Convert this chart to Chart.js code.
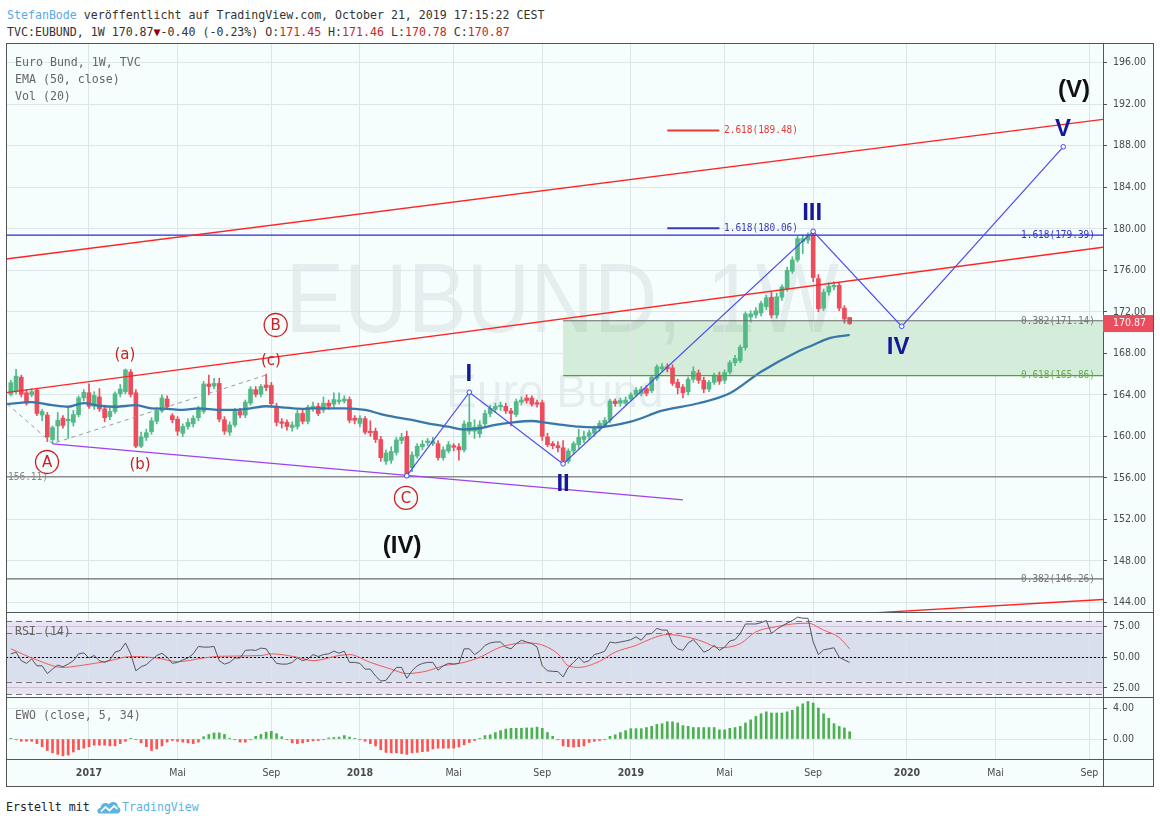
<!DOCTYPE html>
<html><head><meta charset="utf-8">
<script src="https://cdn.jsdelivr.net/npm/chart.js@4.4.1/dist/chart.umd.min.js"></script>
<style>
body{margin:0;background:#fff;width:1160px;height:823px;overflow:hidden;position:relative;font-family:"DejaVu Sans Mono",monospace;}
.t{position:absolute;left:7px;font-size:11.6px;line-height:14px;white-space:pre;color:#333;}
.r{color:#c62828}
canvas{position:absolute;}
</style></head><body>
<div class="t" style="top:8px"><span style="color:#5aa9e6">StefanBode</span> veröffentlicht auf TradingView.com, October 21, 2019 17:15:22 CEST</div>
<div class="t" style="top:25px">TVC:EUBUND, 1W 170.87<span style="color:#8b0000">▼</span>-0.40 (-0.23%) O:<span class="r">171.45</span> H:<span class="r">171.46</span> L:<span class="r">170.78</span> C:<span class="r">170.87</span></div>
<canvas id="cP" width="1148" height="570" style="left:6px;top:43px"></canvas>
<canvas id="cR" width="1148" height="86" style="left:6px;top:612px"></canvas>
<canvas id="cE" width="1148" height="90" style="left:6px;top:697px"></canvas>
<div class="t" style="top:800px;left:6px;color:#222">Erstellt mit</div>
<svg style="position:absolute;left:97px;top:800px" width="24" height="14" viewBox="0 0 24 14"><path d="M2.5 13.5 C-0.5 13.5 -0.5 8 3.5 8 C3.5 3 9.5 1.5 12 4.5 C14 0.5 21 1.5 21 7 C24.5 7.5 24 13.5 20.5 13.5 Z" fill="#5ab4e0"/><path d="M4 11.5 L8.5 7 L12.5 10.5 L17 6 L20.5 9" stroke="#fff" stroke-width="1.7" fill="none"/></svg>
<div class="t" style="top:800px;left:122px;color:#5ab4e0">TradingView</div>
<script>
// ---------------- DATA ----------------
const O=[164.05,164.3,165.7,164.2,164.0,164.45,162.05,162.05,159.7,161.0,
161.75,161.5,161.35,162.1,163.7,164.2,162.9,163.8,162.65,161.9,
162.4,164.1,164.3,166.2,164.2,159.05,159.9,160.45,161.45,162.45,
163.6,162.0,161.65,160.3,160.95,161.2,161.8,162.4,165.05,164.85,
165.1,161.6,160.4,161.1,162.4,162.05,163.2,164.5,164.05,164.95,
164.9,162.9,161.4,161.35,160.85,160.95,162.2,161.45,162.7,162.9,
162.55,163.2,163.1,163.35,163.4,163.55,161.75,161.25,161.7,160.5,
160.5,159.7,157.6,157.7,158.45,159.6,160.0,157.0,158.1,159.0,
159.4,159.3,159.3,157.95,158.6,159.1,159.0,158.7,160.5,160.5,
160.25,161.2,162.2,162.6,162.85,162.9,162.45,162.1,163.3,163.7,
163.7,163.25,163.25,159.95,159.3,159.1,158.9,157.6,158.6,159.2,
159.7,160.0,160.3,160.8,161.1,161.55,163.4,163.2,163.2,163.6,
164.0,164.1,164.6,164.4,165.6,166.5,166.7,166.6,165.2,164.75,
164.3,165.5,166.1,165.4,164.55,165.2,165.9,165.4,166.2,167.1,
167.3,168.55,171.5,171.7,171.9,172.5,173.4,171.7,173.4,174.2,
175.9,177.0,178.75,178.9,179.4,175.2,172.35,173.9,174.4,174.55,
172.35,171.45];
const H=[165.4,166.45,165.9,164.5,164.6,164.6,162.6,162.3,161.0,162.3,
162.0,162.8,162.5,163.9,164.5,165.05,164.3,164.6,163.0,162.7,
164.3,165.0,166.5,166.45,164.5,160.4,160.7,161.8,162.8,164.0,
163.9,162.2,161.9,161.2,161.7,162.0,162.9,165.3,165.9,165.6,
165.6,161.9,161.4,162.7,162.7,163.5,164.8,164.8,165.0,166.0,
165.2,163.2,161.7,161.6,161.4,162.5,162.6,163.0,163.3,163.2,
163.8,163.5,164.2,164.2,163.9,163.8,162.0,162.0,161.9,161.5,
160.8,160.0,158.7,159.0,159.9,160.3,160.5,158.5,159.3,159.6,
159.8,159.9,159.6,159.0,159.5,159.3,159.3,161.5,164.2,161.6,
161.5,162.5,163.0,163.2,163.3,163.2,162.7,163.6,163.8,164.0,
163.9,163.5,163.5,160.3,159.5,159.5,159.6,158.8,159.5,160.7,
160.5,160.6,161.0,161.5,161.8,163.6,163.6,163.7,163.8,164.2,
164.7,164.8,164.9,165.9,166.9,167.0,167.0,166.9,165.5,165.0,
165.7,166.7,166.4,165.7,165.4,166.1,166.2,166.4,167.3,167.8,
168.8,172.0,172.1,172.4,173.0,173.6,173.9,173.8,174.6,176.3,
177.3,179.3,179.4,179.6,179.8,175.6,174.2,174.8,174.9,174.8,
172.6,171.46];
const L=[163.9,164.1,163.8,163.0,163.8,162.0,161.5,159.5,159.3,159.55,
160.8,159.8,161.0,161.9,163.4,162.7,162.6,162.4,161.4,161.6,
162.2,163.8,164.1,163.8,158.9,158.9,159.6,160.2,161.2,162.3,
162.6,161.3,160.1,160.0,160.7,160.9,161.5,162.2,164.0,164.6,
161.4,160.2,160.1,160.9,161.8,161.8,163.0,163.8,163.8,164.4,
162.9,161.0,160.8,160.6,160.5,160.7,161.2,161.2,162.4,162.0,
162.3,162.6,162.8,163.1,163.2,161.3,161.2,160.9,160.2,160.0,
159.4,157.6,157.3,157.4,158.2,159.3,156.1,156.6,157.9,158.7,
159.1,159.1,157.7,157.7,158.4,158.6,157.7,158.5,160.2,159.8,
159.9,160.9,161.9,162.3,162.5,162.2,161.0,161.9,163.0,163.2,
162.9,162.8,159.6,159.0,158.8,158.5,157.3,157.4,158.3,158.8,
159.4,159.7,160.0,160.5,160.9,161.3,162.9,162.9,163.0,163.4,
163.8,163.9,163.9,164.2,165.4,166.2,166.2,164.9,164.1,163.7,
164.0,165.2,165.1,164.2,164.3,165.0,165.0,165.1,166.0,166.8,
167.1,168.3,171.0,171.4,171.6,172.2,171.4,171.4,173.1,174.0,
175.7,176.8,177.6,178.6,174.9,172.0,172.1,173.6,174.1,172.1,
170.9,170.78];
const C=[165.17,165.8,164.05,163.2,164.3,162.2,162.4,159.95,160.85,161.55,
161.05,161.65,162.1,163.7,164.25,162.9,163.95,162.65,161.8,162.4,
164.1,164.55,166.4,164.05,159.05,159.95,160.35,161.5,162.5,163.7,
162.85,161.6,160.5,160.95,161.35,161.75,162.65,165.05,164.8,165.1,
161.65,160.5,161.1,162.4,162.05,163.3,164.55,164.05,164.8,164.7,
163.15,161.35,161.25,160.95,161.1,162.2,161.45,162.8,162.9,162.2,
163.2,162.9,163.55,163.5,163.6,161.55,161.55,161.75,160.4,160.35,
159.7,157.95,158.4,158.55,159.65,159.9,156.15,158.2,159.05,159.25,
159.55,159.55,157.95,158.7,159.2,158.95,158.7,161.2,161.35,160.9,
161.1,162.2,162.7,162.9,163.0,162.45,162.2,163.35,163.5,163.45,
163.1,163.1,160.0,159.2,159.1,158.9,157.6,158.6,159.3,159.9,
160.0,160.35,160.75,161.25,161.55,163.4,163.15,163.45,163.5,164.0,
164.45,164.55,164.15,165.7,166.7,166.7,166.5,165.1,164.7,164.2,
165.5,166.25,165.4,164.55,165.2,165.9,165.3,166.15,167.1,167.5,
168.6,171.8,171.8,172.1,172.8,173.35,171.7,173.45,174.4,176.0,
177.0,179.05,179.05,179.4,175.3,172.3,173.9,174.45,174.55,172.35,
171.3,170.87];
// EMA(50) read at selected weeks
const emaIdx=[-1,4,8,11,14,17,20,24,27,30,33,36,40,43,46,49,52,56,58,64,68,71,74,77,80,84,87,90,93,96,100,103,106,109,112,119,125,132,138,144,151,154,157,161];
const emaVal=[163.1,163.3,163.0,162.85,163.2,162.95,162.85,163.0,162.7,162.65,162.55,162.7,162.55,162.55,162.7,162.9,162.8,162.65,162.7,162.7,162.55,162.15,161.84,161.58,161.26,160.93,160.68,160.78,161.1,161.32,161.48,161.3,161.1,160.93,160.87,161.42,162.47,163.19,164.15,166.23,168.16,168.8,169.45,169.77];
const rsi=[52.8,54.2,47.2,45,48.6,43,43,36.7,40.3,43.6,
42.2,44.4,47.2,52.8,53.6,49.4,51.4,47.2,45.8,47.8,
54.2,55.6,61.7,52.8,38.9,42.2,43.9,47.8,51.4,53.3,
50,45,45.8,47.8,49.4,52.8,58.9,58.3,58.3,58.9,
47.2,44.4,45.8,49.4,49.4,55.6,56,55.6,57.5,56.9,
50.6,45,44.4,44.4,45.8,49.4,47.2,48.6,52.2,50.6,
52.2,52.8,55,53.3,55,45.8,45.8,45,40.3,40.3,
34.7,30.6,31.1,36.7,41.7,41.7,32.8,38.9,43,45,
45.8,45.8,39.4,43,45,44.4,45,56.9,56.9,52.2,
55,59.7,61.7,62.5,62.5,58.3,56.9,61.1,63.9,62.5,
61.1,58.5,43,39,38.5,38.3,33.9,41.7,45.8,50,
45.8,47.2,52.2,53.3,55,62.5,61.7,62.5,63.3,64.4,
66.7,63.9,68.9,69.4,73.6,72.2,72.2,61.1,56.9,55.6,
61.7,64.4,59.7,54.2,56,59.7,55.6,58.3,63.3,64.4,
69.4,77.2,77.2,77.2,78.3,80,69.4,72.8,75.6,77.8,
80,82.8,81.9,81.9,62.5,52.2,56,56.9,57.8,50,
47.8,45.8];
const rsiMaIdx=[0,5,10,13,19,23,28,32,37,40,48,50,55,58,63,65,69,73,76,80,83,87,90,94,99,101,105,107,109,113,116,120,123,126,131,133,136,140,143,147,150,153,156,159,161];
const rsiMaVal=[56.9,47.8,41.7,43,47.2,50.6,49.4,46.4,49.4,50.8,51.4,52.8,50,47.2,51.4,52.2,45.8,40.3,36.7,38.9,43,45.8,50,58.3,61.7,61.1,52.8,43,41.7,46.7,54.2,59.7,65.3,68.6,65.3,62.5,57.8,61.1,70.8,75,77.2,77.8,72.2,66.1,56.9];
const ewo=[0.1,-0.1,-0.3,-0.3,-0.3,-0.6,-1.0,-1.5,-1.8,-2.0,
-2.2,-2.1,-1.7,-1.4,-1.2,-1.0,-0.8,-0.8,-0.8,-0.9,
-0.9,-0.6,-0.3,0.1,-0.1,-0.5,-1.0,-1.5,-1.3,-0.9,
-0.4,-0.2,-0.3,-0.4,-0.5,-0.6,-0.4,0.3,0.6,0.8,
0.8,0.6,0.1,-0.1,-0.4,-0.4,-0.1,0.35,0.6,0.9,
1.0,0.7,0.3,-0.1,-0.5,-0.6,-0.5,-0.35,-0.25,-0.2,
-0.1,0.15,0.2,0.25,0.45,0.25,0.1,-0.1,-0.3,-0.6,
-0.9,-1.4,-1.75,-1.8,-1.8,-1.9,-2.0,-1.8,-1.75,-1.65,
-1.6,-1.3,-1.2,-1.2,-1.2,-1.2,-1.05,-0.75,-0.45,-0.2,
0.1,0.45,0.55,0.85,1.1,1.3,1.4,1.4,1.4,1.45,
1.45,1.55,1.4,0.85,0.35,-0.1,-0.9,-1.0,-1.05,-1.0,
-0.9,-0.45,-0.3,-0.2,-0.05,0.35,0.55,0.85,1.1,1.35,
1.35,1.35,1.5,1.65,1.9,2.0,2.25,2.25,2.1,1.75,
1.65,1.5,1.5,1.5,1.5,1.5,1.2,1.2,1.4,1.5,
1.65,2.1,2.5,2.95,3.3,3.55,3.4,3.4,3.4,3.55,
3.75,4.2,4.6,4.9,4.7,4.05,3.3,2.7,2.0,1.65,
1.45,0.95];
const priceTicks=[144,148,152,156,160,164,168,172,176,180,184,188,192,196];
const rsiTicks=[25,50,75];
const ewoTicks=[0,4];
const timeTickIdx=[15,32,50,67,85,102,119,137,154,172,189,207];
const timeTickLabels=['2017','Mai','Sep','2018','Mai','Sep','2019','Mai','Sep','2020','Mai','Sep'];
// Elliott wave path C-I-II-III-IV-V
const waveIdx=[76,88,106,154,171,202];
const wavePrice=[156.2,164.25,157.35,179.75,170.6,187.9];
// trend lines (week index, price)
const chanUpper=[[-0.931,177.09],[209.63,190.55]];
const chanMid=[[-0.931,164.21],[209.63,178.22]];
const chanLow=[[140,142.24],[209.63,144.28]];
const purpleLine=[[8,159.27],[129,153.88]];
const dashedPath=[[-0.68,163.12],[8,159.3],[49,165.91]];
// fibonacci levels
const fibFull=[179.39,156.11,146.26];
const fibFromII=[171.14,165.86];
const fibShort=[180.06,189.48];
const lastClose=C[C.length-1];

// ---------------- STYLE / LAYOUT ----------------
const BG='#f6fdfd', GRID='#dde5e8', FRAME='#555';
const AXF='"DejaVu Sans Condensed","DejaVu Sans",sans-serif';
const MONO='"DejaVu Sans Mono",monospace';
const XMIN=-0.931, XMAX=209.63, YAXW=51;
const UP='#53b987', DN='#eb4d5c';
Chart.defaults.devicePixelRatio=1;

function xAxis(labels){
  return {type:'linear',min:XMIN,max:XMAX,offset:false,
    afterBuildTicks(s){s.ticks=timeTickIdx.map(v=>({value:v}));},
    grid:{color:GRID,drawTicks:false,offset:false},
    border:{display:false},
    ticks:{display:labels,autoSkip:false,maxRotation:0,minRotation:0,padding:8,color:'#4a4a4a',
      callback:(v,i)=>timeTickLabels[i],
      font:(c)=>({family:AXF,size:10.5,weight:(/^\d/.test(timeTickLabels[c.index]||''))?'bold':'normal'})},
    afterFit(s){s.height=labels?28:0;s.paddingLeft=0;s.paddingRight=0;s.paddingTop=0;s.paddingBottom=0;}};
}
function yAxis(min,max,ticks,gridColor){
  return {position:'right',min,max,
    afterBuildTicks(s){s.ticks=ticks.map(v=>({value:v}));},
    grid:{color:gridColor||GRID,drawTicks:true,tickLength:4,tickColor:FRAME},
    border:{display:true,color:FRAME},
    ticks:{color:'#4a4a4a',padding:6,font:{family:AXF,size:10.5},callback:v=>Number(v).toFixed(2)},
    afterFit(s){s.width=YAXW;s.paddingTop=0;s.paddingBottom=0;s.paddingLeft=0;s.paddingRight=0;}};
}
const baseOpts=(scales)=>({responsive:false,maintainAspectRatio:false,animation:false,events:[],
  layout:{padding:0,autoPadding:false},plugins:{legend:{display:false},tooltip:{enabled:false}},scales});
const pts=(arr)=>arr.map(p=>({x:p[0],y:p[1]}));
const lineDs=(data,color,width,extra)=>Object.assign({type:'line',data,borderColor:color,borderWidth:width,pointRadius:0,fill:false,tension:0},extra||{});

function frame(chart){
  const {ctx}=chart; ctx.save(); ctx.strokeStyle=FRAME; ctx.lineWidth=1;
  ctx.strokeRect(0.5,0.5,chart.width-1,chart.height-1); ctx.restore();
}

// ---------------- PRICE PANEL ----------------
const waveLabels=[
 {t:'A',x:6.94,y:157.53,k:'circle'},{t:'B',x:50.83,y:170.73,k:'circle'},{t:'C',x:75.84,y:154.07,k:'circle'},
 {t:'(a)',x:21.9,y:167.84,k:'red'},{t:'(b)',x:24.8,y:157.24,k:'red'},{t:'(c)',x:49.93,y:167.26,k:'red'},
 {t:'I',x:87.9,y:166.0,k:'blue'},{t:'II',x:106,y:155.4,k:'blue'},{t:'III',x:153.8,y:181.5,k:'blue'},
 {t:'IV',x:170.3,y:168.6,k:'blue'},{t:'V',x:201.95,y:189.6,k:'blue'},
 {t:'(IV)',x:75.1,y:149.4,k:'black'},{t:'(V)',x:204.05,y:193.3,k:'black'}];

const pricePlugin={id:'pdeco',
  beforeDraw(chart){
    const {ctx,chartArea:a,scales:{x,y}}=chart;
    ctx.save(); ctx.fillStyle=BG; ctx.fillRect(0,0,chart.width,chart.height);
    ctx.beginPath(); ctx.rect(a.left,a.top,a.right-a.left,a.bottom-a.top); ctx.clip();
    ctx.fillStyle='rgba(0,45,45,0.07)'; ctx.textBaseline='alphabetic'; ctx.textAlign='center';
    ctx.save(); ctx.translate(556,289); ctx.scale(0.9,1); ctx.font='98px "Liberation Sans"'; ctx.fillText('EUBUND, 1W',0,0); ctx.restore();
    ctx.font='46px "Liberation Sans"'; ctx.fillText('Euro Bund',549,364);
    const x0=x.getPixelForValue(waveIdx[2]);
    const yt=y.getPixelForValue(fibFromII[0]), yb=y.getPixelForValue(fibFromII[1]);
    ctx.fillStyle='rgba(76,175,80,0.2)'; ctx.fillRect(x0,yt,a.right-x0,yb-yt);
    ctx.restore();
  },
  afterDatasetsDraw(chart){
    const {ctx,scales:{x,y}}=chart;
    ctx.save(); ctx.textBaseline='middle'; ctx.textAlign='left';
    ctx.font='11.6px '+MONO; ctx.fillStyle='#666';
    ctx.fillText('Euro Bund, 1W, TVC',9,20); ctx.fillText('EMA (50, close)',9,37); ctx.fillText('Vol (20)',9,54);
    ctx.font='11px '+MONO;
    const fl=(txt,val,px,col)=>{ctx.fillStyle=col; ctx.fillText(txt,px,y.getPixelForValue(val),74);};
    fl('1.618('+fibFull[0].toFixed(2)+')',fibFull[0],1015,'#3333cc');
    fl('0.382('+fibFromII[0].toFixed(2)+')',fibFromII[0],1015,'#777');
    fl('0.618('+fibFromII[1].toFixed(2)+')',fibFromII[1],1015,'#6aa84f');
    fl('0.382('+fibFull[2].toFixed(2)+')',fibFull[2],1015,'#777');
    fl('1.618('+fibShort[0].toFixed(2)+')',fibShort[0],718,'#3a3ab8');
    fl('2.618('+fibShort[1].toFixed(2)+')',fibShort[1],718,'#e53935');
    ctx.fillStyle='#888'; ctx.fillText(fibFull[1].toFixed(2)+')',2,y.getPixelForValue(fibFull[1]),40);
    ctx.textAlign='center';
    for(const w of waveLabels){
      const px=x.getPixelForValue(w.x), py=y.getPixelForValue(w.y);
      if(w.k==='circle'){
        ctx.strokeStyle='#cc1f1f'; ctx.lineWidth=1.3; ctx.beginPath(); ctx.arc(px,py,11.5,0,Math.PI*2); ctx.stroke();
        ctx.fillStyle='#cc1f1f'; ctx.font='15px "DejaVu Sans"'; ctx.fillText(w.t,px,py+1);
      } else if(w.k==='red'){
        ctx.fillStyle='#cc1f1f'; ctx.font='15px "DejaVu Sans"'; ctx.fillText(w.t,px,py);
      } else if(w.k==='blue'){
        ctx.fillStyle='#14189a'; ctx.font='bold 24px "Liberation Sans"'; ctx.fillText(w.t,px,py);
      } else {
        ctx.fillStyle='#111'; ctx.font='bold 24px "Liberation Sans"'; ctx.fillText(w.t,px,py);
      }
    }
    ctx.restore();
  },
  afterDraw(chart){
    const {ctx,chartArea:a,scales:{y}}=chart;
    const yy=y.getPixelForValue(lastClose);
    ctx.save(); ctx.fillStyle=DN; ctx.fillRect(a.right,yy-8.5,chart.width-a.right-1,17);
    ctx.fillStyle='#fff'; ctx.font='10.5px '+AXF; ctx.textBaseline='middle'; ctx.textAlign='left';
    ctx.fillText(lastClose.toFixed(2),a.right+10,yy); ctx.restore();
    frame(chart);
  }};

const candleColors=C.map((c,i)=>c>=O[i]?UP:DN);
new Chart(document.getElementById('cP'),{type:'bar',
  data:{datasets:[
    lineDs(waveIdx.map((v,i)=>({x:v,y:wavePrice[i]})),'#4b4bf0',1.2,{pointRadius:2.3,pointBackgroundColor:BG,pointBorderColor:'#4b4bf0',pointBorderWidth:1}),
    lineDs(pts(chanUpper),'#ff2424',1.3),
    lineDs(pts(chanMid),'#ff2424',1.3),
    lineDs(pts(chanLow),'#ff2424',1.3),
    lineDs(pts(purpleLine),'#a040ee',1.3),
    lineDs(pts(dashedPath),'#9a9a9a',1,{borderDash:[4,4]}),
    lineDs([{x:XMIN,y:fibFull[0]},{x:XMAX,y:fibFull[0]}],'#2a2ad6',1.2),
    lineDs([{x:XMIN,y:fibFull[1]},{x:XMAX,y:fibFull[1]}],'#6a6a6a',1.2),
    lineDs([{x:XMIN,y:fibFull[2]},{x:XMAX,y:fibFull[2]}],'#6a6a6a',1.2),
    lineDs([{x:waveIdx[2],y:fibFromII[0]},{x:XMAX,y:fibFromII[0]}],'#6a6a6a',1.2),
    lineDs([{x:waveIdx[2],y:fibFromII[1]},{x:XMAX,y:fibFromII[1]}],'#5a9e2e',1.2),
    lineDs([{x:126,y:fibShort[0]},{x:136,y:fibShort[0]}],'#3a3ab8',2),
    lineDs([{x:126,y:fibShort[1]},{x:136,y:fibShort[1]}],'#e53935',2),
    lineDs(emaIdx.map((v,i)=>({x:v,y:emaVal[i]})),'#3a77a9',2.3,{cubicInterpolationMode:'monotone'}),
    {type:'bar',data:O.map((o,i)=>({x:i,y:[o,C[i]]})),backgroundColor:candleColors,barThickness:4,minBarLength:1,grouped:false,borderWidth:0},
    {type:'bar',data:O.map((o,i)=>({x:i,y:[L[i],H[i]]})),backgroundColor:candleColors,barThickness:1,grouped:false,borderWidth:0}
  ]},
  options:baseOpts({x:xAxis(false),y:yAxis(142.98,197.9,priceTicks)}),
  plugins:[pricePlugin]});

// ---------------- RSI PANEL ----------------
const rsiPlugin={id:'rdeco',
  beforeDraw(chart){
    const {ctx,chartArea:a,scales:{y}}=chart;
    ctx.save(); ctx.fillStyle=BG; ctx.fillRect(0,0,chart.width,chart.height);
    const py=v=>y.getPixelForValue(v);
    ctx.fillStyle='#e7e3f1'; ctx.fillRect(a.left,py(80),a.right-a.left,py(20)-py(80));
    ctx.fillStyle='#d9dfec'; ctx.fillRect(a.left,py(70),a.right-a.left,py(30)-py(70));
    ctx.restore();
  },
  beforeDatasetsDraw(chart){
    const {ctx,chartArea:a,scales:{y}}=chart;
    ctx.save(); ctx.lineWidth=1;
    ctx.strokeStyle='#7a7480'; ctx.setLineDash([6,4]);
    for(const v of [80,70,30,20]){const p=Math.round(y.getPixelForValue(v))+0.5; ctx.beginPath(); ctx.moveTo(a.left,p); ctx.lineTo(a.right,p); ctx.stroke();}
    ctx.strokeStyle='#000'; ctx.setLineDash([2,2]);
    const p=Math.round(y.getPixelForValue(50))+0.5; ctx.beginPath(); ctx.moveTo(a.left,p); ctx.lineTo(a.right,p); ctx.stroke();
    ctx.setLineDash([]);
    ctx.font='11.6px '+MONO; ctx.fillStyle='#666'; ctx.textBaseline='middle'; ctx.fillText('RSI (14)',9,20);
    ctx.restore();
  },
  afterDraw(chart){frame(chart);}};
new Chart(document.getElementById('cR'),{type:'line',
  data:{datasets:[
    lineDs(rsi.map((v,i)=>({x:i,y:v})),'#55555f',1),
    lineDs(rsiMaIdx.map((v,i)=>({x:v,y:rsiMaVal[i]})),'#ef5b5b',1,{cubicInterpolationMode:'monotone'})
  ]},
  options:baseOpts({x:xAxis(false),y:yAxis(16.7,87,rsiTicks,'rgba(170,150,200,0.45)')}),
  plugins:[rsiPlugin]});

// ---------------- EWO PANEL + TIME AXIS ----------------
const ewoPlugin={id:'edeco',
  beforeDraw(chart){const {ctx}=chart; ctx.save(); ctx.fillStyle=BG; ctx.fillRect(0,0,chart.width,chart.height); ctx.restore();},
  beforeDatasetsDraw(chart){const {ctx}=chart; ctx.save(); ctx.font='11.6px '+MONO; ctx.fillStyle='#666'; ctx.textBaseline='middle'; ctx.fillText('EWO (close, 5, 34)',9,19); ctx.restore();},
  afterDraw(chart){
    const {ctx,chartArea:a}=chart; ctx.save(); ctx.strokeStyle=FRAME; ctx.lineWidth=1;
    const yb=Math.round(a.bottom)+0.5, xr=Math.round(a.right)+0.5;
    ctx.beginPath(); ctx.moveTo(0,yb); ctx.lineTo(chart.width,yb); ctx.moveTo(xr,0); ctx.lineTo(xr,chart.height); ctx.stroke();
    ctx.restore(); frame(chart);
  }};
new Chart(document.getElementById('cE'),{type:'bar',
  data:{datasets:[
    {type:'bar',data:ewo.map((v,i)=>({x:i,y:v})),backgroundColor:ewo.map(v=>v>=0?'#4caf50':'#ff5252'),barThickness:2,grouped:false,borderWidth:0}
  ]},
  options:baseOpts({x:xAxis(true),y:yAxis(-2.61,5.49,ewoTicks)}),
  plugins:[ewoPlugin]});
</script>
</body></html>
